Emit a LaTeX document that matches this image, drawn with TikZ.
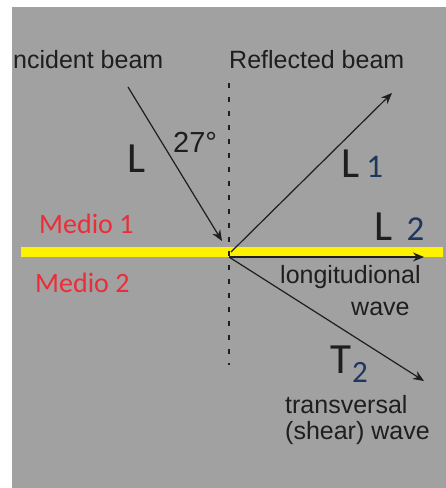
\documentclass[tikz,border=0pt]{standalone}
\usepackage{fontspec}
\setmainfont{Liberation Sans}
\newfontfamily\calfont{Carlito}
\usetikzlibrary{arrows.meta}
\definecolor{bgray}{RGB}{161,161,161}
\definecolor{ink}{RGB}{30,30,30}
\definecolor{medred}{RGB}{235,45,55}
\definecolor{subblue}{RGB}{30,55,95}
\begin{document}
\begin{tikzpicture}[x=1pt,y=-1pt,
    beam/.style={-{Stealth[length=11pt,width=9pt]}, line width=1.2pt, draw=ink},
    txt/.style={inner sep=0pt, anchor=base west, text=ink, font=\fontsize{25}{29}\selectfont},
    big/.style={inner sep=0pt, anchor=base west, text=ink, font=\calfont\fontsize{43}{48}\selectfont},
    medio/.style={inner sep=0pt, anchor=base west, text=medred, font=\calfont\fontsize{28}{32}\selectfont}]
            \useasboundingbox (0,0) rectangle (446,488);
            \fill[bgray] (12,7) rectangle (446,488);

            % interface and normal
            \draw[yellow, line width=10pt] (21,252) -- (443,252);
            \draw[ink, line width=2.8pt, dash pattern=on 5pt off 9pt] (229,83) -- (229,365);

            % beams
            \coordinate (inc) at (128,87);
            \coordinate (hit) at (222,241);
            \coordinate (O) at (231,252);
            \coordinate (Ob) at (229,257);
            \coordinate (refl) at (392,93);
            \coordinate (long) at (424,257);
            \coordinate (trans) at (424,381);
            \draw[beam] (inc) -- (hit);
            \draw[beam] (O) -- (refl);
            \draw[beam] (Ob) -- (long);
            \draw[beam] (Ob) -- (trans);

            % labels
            \node[txt] (inctext) at (13,68) {ncident beam};
            \node[txt] (refltext) at (229,68) {Reflected beam};
            \node[big] (Linc) at (127,172) {L};
            \node[txt, font=\fontsize{29}{33}\selectfont] (ang) at (173,152) {27°};
            \node[big] (Lone) at (341,177) {L\,{\fontsize{33}{36}\selectfont\color{subblue}1}};
            \node[big] (Ltwo) at (374,240) {L\,\,{\fontsize{35}{38}\selectfont\color{subblue}2}};
            \node[big] (Ttwo) at (330,373) {T\kern1pt\raisebox{-9pt}{\fontsize{31}{34}\selectfont\color{subblue}2}};
            \node[medio] (mone) at (39,233) {Medio 1};
            \node[medio] (mtwo) at (35,292) {Medio 2};
            \node[txt] (longtext) at (280,283) {longitudional};
            \node[txt] (wavetext) at (351,315) {wave};
            \node[txt] (transtext) at (285,413) {transversal};
            \node[txt] (sheartext) at (285,439) {(shear) wave};
\end{tikzpicture}
\end{document}
